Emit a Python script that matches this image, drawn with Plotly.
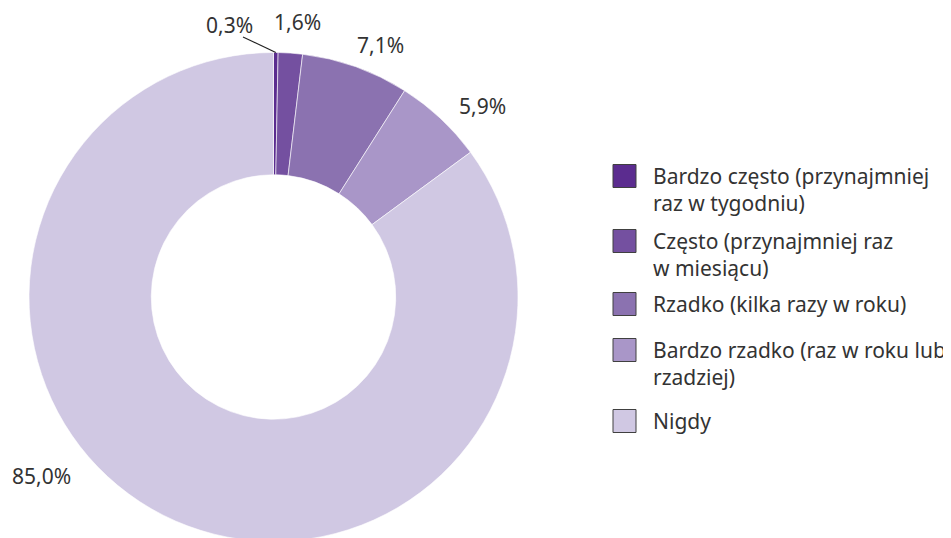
import math
import plotly.graph_objects as go

# ---- data ----
categories = [
    "Bardzo często (przynajmniej raz w tygodniu)",
    "Często (przynajmniej raz w miesiącu)",
    "Rzadko (kilka razy w roku)",
    "Bardzo rzadko (raz w roku lub rzadziej)",
    "Nigdy",
]
legend_labels = [
    "Bardzo często (przynajmniej<br>raz w tygodniu)",
    "Często (przynajmniej raz<br>w miesiącu)",
    "Rzadko (kilka razy w roku)",
    "Bardzo rzadko (raz w roku lub<br>rzadziej)",
    "Nigdy",
]
values = [0.3, 1.6, 7.1, 5.9, 85.0]

# ---- style ----
colors = ["#5b2c8f", "#7450a0", "#8b72b0", "#a996c8", "#d0c8e3"]
W, H = 951, 538
FONT = "Noto Sans, Open Sans, sans-serif"
FS = 21
TEXT_COLOR = "#333333"
OFF = 8  # page body margin offset

# pie geometry (page pixels)
cx, cy, R = 273.5, 297.0, 244.5

# label positions (page pixels, text centres)
label_pos = [(229.5, 25), (297.5, 22), (380.5, 45), (482.5, 106), (41, 476)]
# legend first-line centres (page pixels)
legend_y = [176, 241, 304, 350, 421]
legend_sq_x = (613, 636)
legend_text_x = 651


def px(x):
    return (x - OFF) / W


def py(y):
    return 1 - (y - OFF) / H


fig = go.Figure()
fig.add_trace(
    go.Pie(
        labels=categories,
        values=values,
        hole=0.5,
        sort=False,
        direction="clockwise",
        rotation=0,
        marker=dict(colors=colors, line=dict(color="rgba(255,255,255,0.6)", width=1)),
        textinfo="none",
        hoverinfo="label+percent",
        showlegend=False,
        domain=dict(x=[px(cx - R), px(cx + R)], y=[py(cy + R), py(cy - R)]),
    )
)

annotations = []
shapes = []


def fmt(v):
    return f"{v:.1f}".replace(".", ",") + "%"


for v, (lx, ly) in zip(values, label_pos):
    annotations.append(
        dict(
            x=px(lx), y=py(ly), xref="paper", yref="paper",
            text=fmt(v), showarrow=False,
            xanchor="center", yanchor="middle",
            font=dict(family=FONT, size=FS, color=TEXT_COLOR),
        )
    )

# leader line for the smallest slice: tip at slice mid-angle on the outer edge
total = sum(values)
mid = values[0] / 2 / total * 2 * math.pi
tip_x = cx + R * math.sin(mid)
tip_y = cy - R * math.cos(mid)
shapes.append(
    dict(
        type="line", xref="paper", yref="paper",
        x0=px(243), y0=py(37), x1=px(tip_x), y1=py(tip_y),
        line=dict(color="#222222", width=1.2),
    )
)

# legend (squares + text)
for lab, col, ly in zip(legend_labels, colors, legend_y):
    half = (legend_sq_x[1] - legend_sq_x[0]) / 2
    shapes.append(
        dict(
            type="rect", xref="paper", yref="paper",
            x0=px(legend_sq_x[0]), x1=px(legend_sq_x[1]),
            y0=py(ly - half), y1=py(ly + half),
            fillcolor=col, line=dict(color="#404040", width=1),
        )
    )
    nlines = lab.count("<br>") + 1
    centre = ly + (nlines - 1) * 13.5
    annotations.append(
        dict(
            x=px(legend_text_x), y=py(centre), xref="paper", yref="paper",
            text=lab, showarrow=False, align="left",
            xanchor="left", yanchor="middle",
            font=dict(family=FONT, size=FS, color=TEXT_COLOR),
        )
    )

fig.update_layout(
    width=W, height=H,
    margin=dict(l=0, r=0, t=0, b=0),
    paper_bgcolor="white",
    plot_bgcolor="white",
    annotations=annotations,
    shapes=shapes,
    font=dict(family=FONT, size=FS, color=TEXT_COLOR),
)

fig.write_html("out.html")
